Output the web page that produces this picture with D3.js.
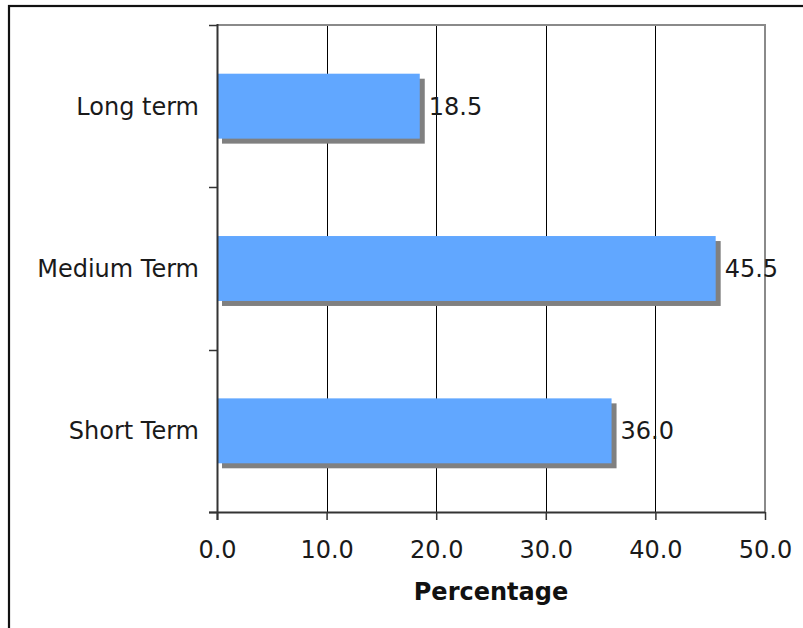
<!DOCTYPE html>
<html>
<head>
<meta charset="utf-8">
<script src="https://cdn.jsdelivr.net/npm/d3@7"></script>
<style>
  html, body { margin: 0; padding: 0; background: #fff; }
  svg text { font-family: "DejaVu Sans", Verdana, sans-serif; }
</style>
</head>
<body>
<svg id="chart" width="803" height="628"></svg>
<script>
// Time horizon shares, top to bottom
const categories = ["Long term", "Medium Term", "Short Term"];
const values = [18.5, 45.5, 36.0];
const xTicks = [0, 10, 20, 30, 40, 50];
const xTitle = "Percentage";

const svg = d3.select("#chart");
const plot = { left: 217, right: 765, top: 25, bottom: 512 };
const fontSize = 24;

// Outer frame
svg.append("rect")
  .attr("x", 9).attr("y", 6)
  .attr("width", 900).attr("height", 900)
  .attr("fill", "none").attr("stroke", "#111").attr("stroke-width", 2.2);

const x = d3.scaleLinear().domain([0, 50]).range([plot.left, plot.right]);
const y = d3.scaleBand().domain(categories).range([plot.top, plot.bottom])
  .paddingInner(0.6).paddingOuter(0.3);

// Vertical gridlines
svg.append("g").selectAll("line")
  .data(xTicks.slice(1, -1))
  .join("line")
  .attr("x1", d => Math.round(x(d)) + 0.5).attr("x2", d => Math.round(x(d)) + 0.5)
  .attr("y1", plot.top).attr("y2", plot.bottom)
  .attr("stroke", "#000").attr("stroke-width", 1);

// Plot area top/right border
svg.append("path")
  .attr("d", `M${plot.left},${plot.top}H${plot.right}V${plot.bottom}`)
  .attr("fill", "none").attr("stroke", "#8a8a8a").attr("stroke-width", 2);

// Bar shadows
const shadowOff = 5;
svg.append("g").selectAll("rect")
  .data(values)
  .join("rect")
  .attr("x", x(0) + shadowOff)
  .attr("y", (d, i) => y(categories[i]) + shadowOff)
  .attr("width", d => x(d) - x(0))
  .attr("height", y.bandwidth())
  .attr("fill", "#808080");

// Bars
svg.append("g").selectAll("rect")
  .data(values)
  .join("rect")
  .attr("x", x(0))
  .attr("y", (d, i) => y(categories[i]))
  .attr("width", d => x(d) - x(0))
  .attr("height", y.bandwidth())
  .attr("fill", "#61A7FF");

// Value labels
svg.append("g").selectAll("text")
  .data(values)
  .join("text")
  .attr("x", d => x(d) + 9)
  .attr("y", (d, i) => y(categories[i]) + y.bandwidth() / 2)
  .attr("dy", "0.36em")
  .attr("font-size", fontSize)
  .attr("fill", "#1a1a1a")
  .text(d => d3.format(".1f")(d));

// X axis
const xAxis = svg.append("g")
  .attr("transform", `translate(0,${plot.bottom})`)
  .call(d3.axisBottom(x).tickValues(xTicks).tickFormat(d3.format(".1f"))
    .tickSizeInner(8).tickSizeOuter(0).tickPadding(21));
xAxis.select(".domain").attr("stroke", "#333").attr("stroke-width", 2)
  .attr("d", `M${plot.left - 8},0.5H${plot.right}`);
xAxis.selectAll(".tick line").attr("stroke", "#333").attr("stroke-width", 1.5);
xAxis.selectAll(".tick text")
  .attr("font-size", fontSize).attr("fill", "#1a1a1a")
  .attr("font-family", "DejaVu Sans, Verdana, sans-serif");

// Y axis with ticks at the category boundaries
const yEdges = [plot.top, ...categories.slice(1).map(c => y(c) - y.step() * y.paddingInner() / 2), plot.bottom];
const yAxis = svg.append("g");
yAxis.append("line")
  .attr("x1", plot.left + 0.5).attr("x2", plot.left + 0.5)
  .attr("y1", plot.top - 1).attr("y2", plot.bottom + 8)
  .attr("stroke", "#333").attr("stroke-width", 2);
yAxis.selectAll("line.tick")
  .data(yEdges)
  .join("line")
  .attr("class", "tick")
  .attr("x1", plot.left - 8).attr("x2", plot.left)
  .attr("y1", d => Math.round(d) + 0.5).attr("y2", d => Math.round(d) + 0.5)
  .attr("stroke", "#333").attr("stroke-width", 1.5);

// Category labels
svg.append("g").selectAll("text")
  .data(categories)
  .join("text")
  .attr("x", plot.left - 18)
  .attr("y", d => y(d) + y.bandwidth() / 2)
  .attr("dy", "0.36em")
  .attr("text-anchor", "end")
  .attr("font-size", fontSize)
  .attr("fill", "#1a1a1a")
  .text(d => d);

// Axis title
svg.append("text")
  .attr("x", (plot.left + plot.right) / 2)
  .attr("y", 600)
  .attr("text-anchor", "middle")
  .attr("font-size", fontSize)
  .attr("font-weight", "bold")
  .attr("fill", "#111")
  .text(xTitle);
</script>
</body>
</html>
